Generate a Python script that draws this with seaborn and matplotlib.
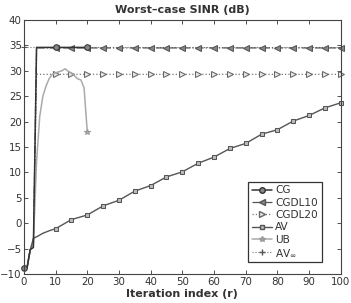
import numpy as np
import pandas as pd
import matplotlib
matplotlib.use("Agg")
import matplotlib.pyplot as plt
from matplotlib.lines import Line2D
import seaborn as sns

# data
r_cg = list(range(0, 21))
cg = [-8.8, -8.8, -5.2, -4.8] + [34.6] * 17

r_cgdl = list(range(0, 101))
cgdl10 = [-8.8, -8.8, -5.2, -4.8] + [34.5] * 97
cgdl20 = [-8.8, -8.8, -5.2, -4.8] + [29.3] * 97

r_ub = list(range(0, 21))
ub = [-8.8, -8.8, -5.3, -4.0, 12.0, 21.0, 25.0, 27.0, 28.5, 29.3, 29.6,
      29.8, 30.0, 30.4, 29.9, 29.5, 29.0, 28.4, 28.2, 26.6, 18.0]

r_av = [0, 1, 2, 3, 4, 6, 8, 10, 15, 20, 25, 30, 35, 40, 45, 50, 55, 60,
        65, 70, 75, 80, 85, 90, 95, 100]
av = [-8.8, -8.8, -5.3, -3.0, -2.7, -2.0, -1.5, -1.1, 0.7, 1.6, 3.4, 4.5,
      6.3, 7.4, 9.1, 10.1, 11.8, 13.0, 14.7, 15.7, 17.5, 18.4, 20.1, 21.2,
      22.7, 23.7]

r_avinf = [0, 100]
avinf = [34.7, 34.7]

xticks = list(range(0, 101, 10))
yticks = list(range(-10, 41, 5))

sns.set_style("ticks")
plt.rcParams["font.family"] = ["DejaVu Sans"]

fig = plt.figure(figsize=(3.51, 3.03), dpi=100)
ax = fig.add_axes([0.068, 0.096, 0.903, 0.838])


def idx(rs, keep):
    return [i for i, v in enumerate(rs) if keep(v)]


styles = {
    "CG": dict(color="#333333", linestyle="-", linewidth=1.1, marker="o",
               markersize=4, markerfacecolor="#888888", markeredgecolor="#333333"),
    "CGDL10": dict(color="#555555", linestyle="-.", linewidth=0.9, marker="<",
                   markersize=4, markerfacecolor="#888888", markeredgecolor="#555555"),
    "CGDL20": dict(color="#777777", linestyle=":", linewidth=0.9, marker=">",
                   markersize=4, markerfacecolor="#e8e8e8", markeredgecolor="#666666"),
    "AV": dict(color="#555555", linestyle="-", linewidth=1.0, marker="s",
               markersize=3.5, markerfacecolor="#bbbbbb", markeredgecolor="#555555"),
    "UB": dict(color="#aaaaaa", linestyle="-", linewidth=1.1, marker="*",
               markersize=4, markerfacecolor="#aaaaaa", markeredgecolor="#999999"),
    "AV$_{\\infty}$": dict(color="#777777", linestyle=":", linewidth=0.8,
                            marker="+", markersize=4, markeredgecolor="#555555"),
}

sns.lineplot(x=r_avinf, y=avinf, ax=ax, clip_on=False, **styles["AV$_{\\infty}$"])
sns.lineplot(x=r_cgdl, y=cgdl20, ax=ax, clip_on=False,
             markevery=idx(r_cgdl, lambda v: v >= 10 and v % 5 == 0),
             **styles["CGDL20"])
sns.lineplot(x=r_cgdl, y=cgdl10, ax=ax, clip_on=False,
             markevery=idx(r_cgdl, lambda v: v >= 10 and v % 5 == 0),
             **styles["CGDL10"])
sns.lineplot(x=r_ub, y=ub, ax=ax, markevery=[20], **styles["UB"])
sns.lineplot(x=r_av, y=av, ax=ax, clip_on=False,
             markevery=idx(r_av, lambda v: v == 0 or (v >= 10 and v % 5 == 0)),
             **styles["AV"])
sns.lineplot(x=r_cg, y=cg, ax=ax, clip_on=False,
             markevery=idx(r_cg, lambda v: v % 10 == 0), **styles["CG"])

ax.set_xlim(0, 100)
ax.set_ylim(-10, 40)
ax.set_xticks(xticks)
ax.set_yticks(yticks)
ax.tick_params(direction="in", top=True, right=True, length=3, width=0.6,
               labelsize=7.4, colors="#333333", pad=2)
ax.tick_params(axis="y", pad=1.5)
for s in ax.spines.values():
    s.set_linewidth(0.8)
    s.set_color("#444444")

ax.set_title("Worst\u2013case SINR (dB)", fontsize=8, fontweight="bold",
             color="#333333", pad=5)
ax.set_xlabel("Iteration index (r)", fontsize=8, fontweight="bold",
              color="#333333", labelpad=2)
ax.set_ylabel("")

order = ["CG", "CGDL10", "CGDL20", "AV", "UB", "AV$_{\\infty}$"]
handles = [Line2D([0, 1, 2], [0, 0, 0], markevery=[1], **styles[k]) for k in order]
leg = ax.legend(handles, order, loc="lower right",
                bbox_to_anchor=(0.94, 0.045), fontsize=7.6, frameon=True,
                fancybox=False, edgecolor="#333333", framealpha=1,
                handlelength=1.9, handletextpad=0.3, labelspacing=0.22,
                borderpad=0.35, borderaxespad=0)
leg.get_frame().set_linewidth(0.9)
for t in leg.get_texts():
    t.set_color("#333333")

fig.savefig("out.png", dpi=100)
